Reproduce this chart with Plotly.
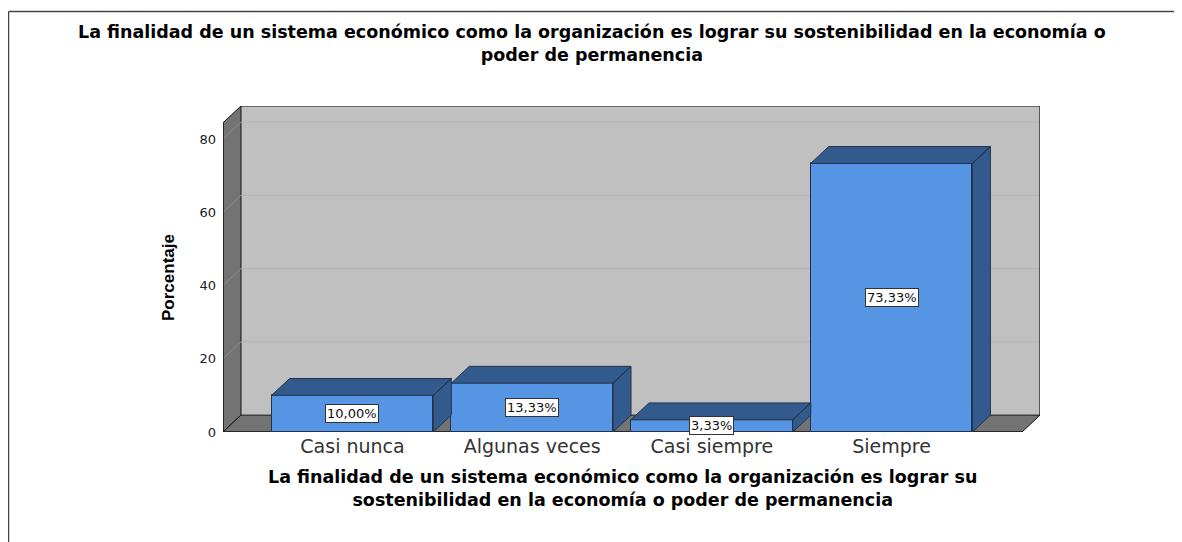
import plotly.graph_objects as go

# ---------------- data ----------------
categories = ["Casi nunca", "Algunas veces", "Casi siempre", "Siempre"]
percentages = [10.00, 13.33, 3.33, 73.33]
y_ticks = [0, 20, 40, 60, 80]
title_lines = [
    "La finalidad de un sistema económico como la organización es lograr su sostenibilidad en la economía o",
    "poder de permanencia",
]
xtitle_lines = [
    "La finalidad de un sistema económico como la organización es lograr su",
    "sostenibilidad en la economía o poder de permanencia",
]
y_title = "Porcentaje"

# ---------------- layout constants ----------------
OFF = 8                      # page body margin in the browser
W, H = 1182 - OFF, 542 - OFF
ML, MT = 223 - OFF, 106 - OFF
MR = W - (1040 - OFF)
MB = H - (432 - OFF)
PW, PH = W - ML - MR, H - MT - MB
X_MIN, X_MAX = -0.7206, 3.826
Y_MAX = 89.0
DX, DY = 0.1, 4.6          # 3-D depth offset in data units
BAR_W = 0.9
FRONT = "#5595e4"
DARK = "#335a8c"
EDGE = "#23324a"
WALL_BACK = "#c0c0c0"
WALL_SIDE = "#737373"
GRID = "#b2b2b2"
GRID_SIDE = "#8c8c8c"

BOLD = "DejaVu Sans"
REG = "DejaVu Sans"


def px_x(p):
    """reference-page pixel x -> paper coordinate"""
    return (p - OFF - ML) / PW


def px_y(p):
    """reference-page pixel y -> paper coordinate"""
    return (H - MB - (p - OFF)) / PH


xs = list(range(len(categories)))
fig = go.Figure()

# front faces of the bars
fig.add_trace(go.Bar(
    x=xs, y=percentages, width=BAR_W,
    marker=dict(color=FRONT, line=dict(color=EDGE, width=1)),
    showlegend=False, hoverinfo="skip",
))

# top and side faces of the bars (computed from the values)
for x, v in zip(xs, percentages):
    l, r = x - BAR_W / 2, x + BAR_W / 2
    px = [l, r, r + DX, l + DX, l, None, r, r + DX, r + DX, r, r]
    py = [v, v, v + DY, v + DY, v, None, 0, DY, v + DY, v, 0]
    fig.add_trace(go.Scatter(
        x=px, y=py, mode="lines", fill="toself", fillcolor=DARK,
        line=dict(color=EDGE, width=1), showlegend=False, hoverinfo="skip",
    ))

# value labels
for x, v in zip(xs, percentages):
    fig.add_annotation(
        x=x, y=v / 2, xref="x", yref="y",
        text=f"{v:.2f}".replace(".", ",") + "%",
        showarrow=False, bgcolor="white", bordercolor="#333333",
        borderwidth=1, borderpad=1,
        font=dict(family=REG, size=13, color="#111111"),
    )

# ---------------- walls ----------------
x_front_right = X_MAX - DX
shapes = []
shapes.append(dict(type="rect", xref="x", yref="y", x0=X_MIN + DX, x1=X_MAX,
                   y0=DY, y1=Y_MAX, fillcolor=WALL_BACK, line=dict(width=0), layer="below"))
shapes.append(dict(type="path", xref="x", yref="y",
                   path=f"M{X_MIN},0 L{X_MIN + DX},{DY} L{X_MIN + DX},{Y_MAX} L{X_MIN},{Y_MAX - DY} Z",
                   fillcolor=WALL_SIDE, line=dict(color="#111111", width=1), layer="below"))
shapes.append(dict(type="path", xref="x", yref="y",
                   path=f"M{X_MIN},0 L{x_front_right},0 L{X_MAX},{DY} L{X_MIN + DX},{DY} Z",
                   fillcolor=WALL_SIDE, line=dict(color="#111111", width=1), layer="below"))
for t in y_ticks[1:]:
    shapes.append(dict(type="line", xref="x", yref="y", x0=X_MIN + DX, x1=X_MAX,
                       y0=t + DY, y1=t + DY, line=dict(color=GRID, width=1), layer="below"))
    shapes.append(dict(type="line", xref="x", yref="y", x0=X_MIN, x1=X_MIN + DX,
                       y0=t, y1=t + DY, line=dict(color=GRID_SIDE, width=1), layer="below"))
shapes.append(dict(type="path", xref="x", yref="y",
                   path=f"M{X_MIN + DX},{Y_MAX} L{X_MAX},{Y_MAX} L{X_MAX},{DY}",
                   line=dict(color="#111111", width=1.2), layer="below"))
shapes.append(dict(type="line", xref="x", yref="y", x0=X_MIN, x1=X_MIN,
                   y0=0, y1=Y_MAX - DY, line=dict(color="#111111", width=1.2), layer="below"))
shapes.append(dict(type="line", xref="x", yref="y", x0=X_MIN, x1=x_front_right,
                   y0=0, y1=0, line=dict(color="#111111", width=1.2), layer="below"))
# outer frame
shapes.append(dict(type="line", xref="paper", yref="paper", x0=px_x(8.6), x1=px_x(1182),
                   y0=px_y(11.5), y1=px_y(11.5), line=dict(color="#444444", width=1.3)))
shapes.append(dict(type="line", xref="paper", yref="paper", x0=px_x(8.6), x1=px_x(8.6),
                   y0=px_y(11.5), y1=px_y(542), line=dict(color="#444444", width=1.3)))

# ---------------- titles ----------------
TITLE_SIZE = 17.5
fig.add_annotation(x=px_x(592), y=px_y(43.5), xref="paper", yref="paper",
                   text="<b>" + "<br>".join(title_lines) + "</b>", showarrow=False,
                   xanchor="center", yanchor="middle", align="center",
                   font=dict(family=BOLD, size=TITLE_SIZE, color="#000000"))
fig.add_annotation(x=px_x(622), y=px_y(488.5), xref="paper", yref="paper",
                   text="<b>" + "<br>".join(xtitle_lines) + "</b>", showarrow=False,
                   xanchor="center", yanchor="middle", align="center",
                   font=dict(family=BOLD, size=TITLE_SIZE, color="#000000"))
fig.add_annotation(x=px_x(168), y=px_y(278), xref="paper", yref="paper",
                   text=f"<b>{y_title}</b>", textangle=-90, showarrow=False,
                   xanchor="center", yanchor="middle",
                   font=dict(family="Liberation Sans", size=17, color="#000000"))

fig.update_layout(
    width=W, height=H,
    margin=dict(l=ML, r=MR, t=MT, b=MB, pad=0),
    paper_bgcolor="white", plot_bgcolor="white",
    shapes=shapes, bargap=0,
    xaxis=dict(range=[X_MIN, X_MAX], tickvals=xs, ticktext=categories,
               showgrid=False, zeroline=False, showline=False, ticks="",
               ticklabelstandoff=1,
               tickfont=dict(family=REG, size=19, color="#333333"), fixedrange=True),
    yaxis=dict(range=[0, Y_MAX], tickvals=y_ticks, ticktext=[str(t) for t in y_ticks],
               showgrid=False, zeroline=False, showline=False, ticks="",
               ticklabelstandoff=6,
               tickfont=dict(family=REG, size=13, color="#222222"), fixedrange=True),
)

fig.write_html("out.html")
